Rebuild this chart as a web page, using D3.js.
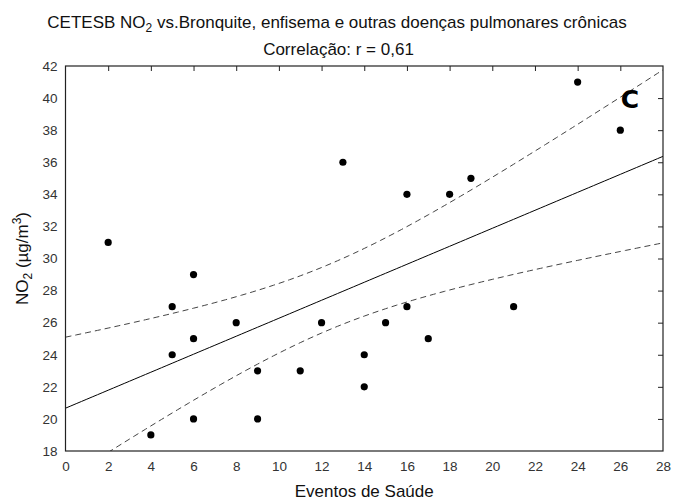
<!DOCTYPE html>
<html>
<head>
<meta charset="utf-8">
<script src="https://cdn.jsdelivr.net/npm/d3@7"></script>
<style>
  body { margin: 0; background: #fff; }
  svg { font-family: "Liberation Sans", Arial, sans-serif; }
</style>
</head>
<body>
<div id="chart"></div>
<script>
// Observed points: health events vs NO2
const eventos = [2, 4, 5, 5, 6, 6, 6, 8, 9, 9, 11, 12, 13, 14, 14, 15, 16, 16, 17, 18, 19, 21, 24, 26];
const no2 = [31, 19, 27, 24, 29, 25, 20, 26, 23, 20, 23, 26, 36, 24, 22, 26, 34, 27, 25, 34, 35, 27, 41, 38];

const xTicks = [0, 2, 4, 6, 8, 10, 12, 14, 16, 18, 20, 22, 24, 26, 28];
const yTicks = [18, 20, 22, 24, 26, 28, 30, 32, 34, 36, 38, 40, 42];

const width = 673, height = 504;
const margin = { top: 66, right: 10, bottom: 53, left: 65.5 };

const svg = d3.select('#chart').append('svg')
  .attr('width', width)
  .attr('height', height);

const x = d3.scaleLinear().domain([0, 28]).range([margin.left, width - margin.right]);
const y = d3.scaleLinear().domain([18, 42]).range([height - margin.bottom, margin.top]);

// clip for the fit lines
svg.append('clipPath').attr('id', 'plot')
  .append('rect')
  .attr('x', x(0)).attr('y', y(42))
  .attr('width', x(28) - x(0)).attr('height', y(18) - y(42));

// linear fit + 95% confidence band of the mean
const n = eventos.length;
const mx = d3.mean(eventos), my = d3.mean(no2);
let sxx = 0, sxy = 0;
eventos.forEach((v, i) => { sxx += (v - mx) ** 2; sxy += (v - mx) * (no2[i] - my); });
const slope = sxy / sxx;
const icpt = my - slope * mx;
let sse = 0;
eventos.forEach((v, i) => { sse += (no2[i] - (icpt + slope * v)) ** 2; });
const s = Math.sqrt(sse / (n - 2));
const tcrit = 2.074; // df = 22

const grid = d3.range(0, 28.01, 0.25);
const band = grid.map(v => {
  const fit = icpt + slope * v;
  const half = tcrit * s * Math.sqrt(1 / n + (v - mx) ** 2 / sxx);
  return { x: v, fit, lo: fit - half, hi: fit + half };
});

const fitG = svg.append('g').attr('clip-path', 'url(#plot)');

fitG.append('path')
  .datum(band)
  .attr('fill', 'none')
  .attr('stroke', '#000')
  .attr('stroke-width', 1)
  .attr('d', d3.line().x(d => x(d.x)).y(d => y(d.fit)));

['lo', 'hi'].forEach(k => {
  fitG.append('path')
    .datum(band)
    .attr('fill', 'none')
    .attr('stroke', '#444')
    .attr('stroke-width', 1)
    .attr('stroke-dasharray', '6,4')
    .attr('d', d3.line().curve(d3.curveMonotoneX).x(d => x(d.x)).y(d => y(d[k])));
});

// frame
svg.append('rect')
  .attr('x', x(0)).attr('y', y(42))
  .attr('width', x(28) - x(0)).attr('height', y(18) - y(42))
  .attr('fill', 'none')
  .attr('stroke', '#222')
  .attr('stroke-width', 1.2);

// axes: labels on bottom/left, inner ticks on top/right
const tickColor = '#222';
const bottom = svg.append('g')
  .attr('transform', `translate(0,${y(18)})`)
  .call(d3.axisBottom(x).tickValues(xTicks).tickSize(0).tickPadding(10));
const left = svg.append('g')
  .attr('transform', `translate(${x(0)},0)`)
  .call(d3.axisLeft(y).tickValues(yTicks).tickSize(0).tickPadding(8));
[bottom, left].forEach(g => {
  g.select('.domain').remove();
  g.selectAll('text').attr('font-size', 13.5).attr('fill', '#333')
    .attr('font-family', '"Liberation Sans", Arial, sans-serif');
});

svg.append('g')
  .attr('transform', `translate(0,${y(42)})`)
  .call(d3.axisBottom(x).tickValues(xTicks.slice(1, -1)).tickSize(5).tickFormat(''))
  .call(g => g.select('.domain').remove())
  .selectAll('line').attr('stroke', tickColor);

svg.append('g')
  .attr('transform', `translate(${x(28)},0)`)
  .call(d3.axisRight(y).tickValues(yTicks.slice(1, -1)).tickSize(-5).tickFormat(''))
  .call(g => g.select('.domain').remove())
  .selectAll('line').attr('stroke', tickColor);

// points
svg.append('g')
  .selectAll('circle')
  .data(eventos.map((v, i) => [v, no2[i]]))
  .join('circle')
  .attr('cx', d => x(d[0]))
  .attr('cy', d => y(d[1]))
  .attr('r', 3.6)
  .attr('fill', '#000');

// panel letter
svg.append('text')
  .attr('x', x(26.45))
  .attr('y', y(39.4))
  .attr('text-anchor', 'middle')
  .attr('font-size', 25)
  .attr('font-weight', 'bold')
  .attr('font-family', '"DejaVu Sans", sans-serif')
  .text('C');

// titles
const title = svg.append('text')
  .attr('x', 337).attr('y', 28)
  .attr('text-anchor', 'middle')
  .attr('font-size', 17)
  .attr('fill', '#111');
title.append('tspan').text('CETESB NO');
title.append('tspan').attr('font-size', 12).attr('dy', 4).text('2');
title.append('tspan').attr('dy', -4).text(' vs.Bronquite, enfisema e outras doenças pulmonares crônicas');

svg.append('text')
  .attr('x', 338.5).attr('y', 55)
  .attr('text-anchor', 'middle')
  .attr('font-size', 17)
  .attr('fill', '#111')
  .text('Correlação: r = 0,61');

svg.append('text')
  .attr('x', (x(0) + x(28)) / 2).attr('y', 497)
  .attr('text-anchor', 'middle')
  .attr('font-size', 17)
  .attr('fill', '#111')
  .text('Eventos de Saúde');

const yl = svg.append('text')
  .attr('transform', `translate(28,${(y(18) + y(42)) / 2}) rotate(-90)`)
  .attr('text-anchor', 'middle')
  .attr('font-size', 17)
  .attr('fill', '#111');
yl.append('tspan').text('NO');
yl.append('tspan').attr('font-size', 12).attr('dy', 4).text('2');
yl.append('tspan').attr('dy', -4).text(' (µg/m');
yl.append('tspan').attr('font-size', 12).attr('dy', -7).text('3');
yl.append('tspan').attr('dy', 7).text(')');
</script>
</body>
</html>
